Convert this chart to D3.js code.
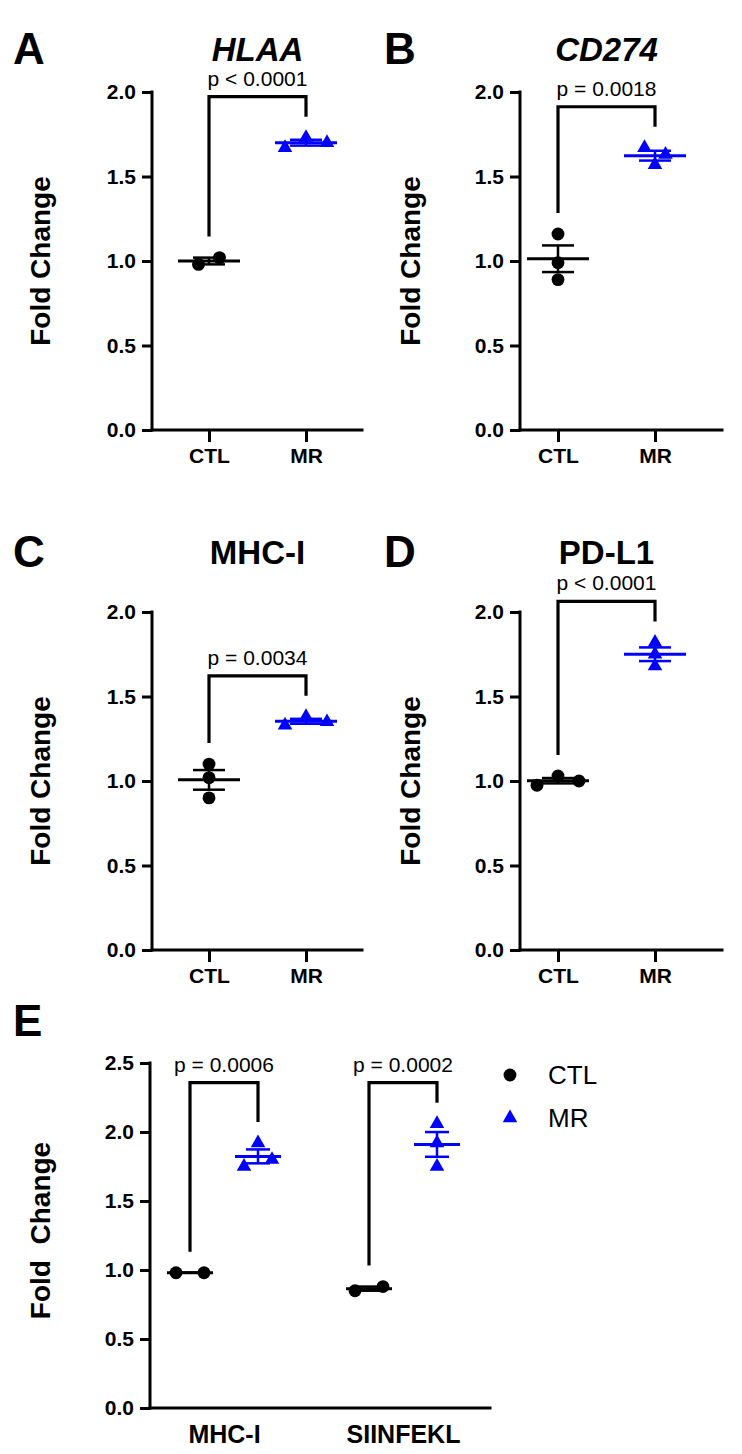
<!DOCTYPE html>
<html><head><meta charset="utf-8">
<script src="https://cdn.jsdelivr.net/npm/d3@7"></script>
<style>
body{margin:0;background:#fff}
svg{display:block}
text{font-family:"Liberation Sans",Arial,sans-serif;fill:#000}
</style>
</head><body>
<svg id="c" width="742" height="1454"></svg>
<script>
// ---------------- data ----------------
const groups = ["CTL", "MR"];
const hlaaCTL = [0.98, 1.02];
const hlaaMR = [1.67, 1.73, 1.70];
const cd274CTL = [1.16, 0.99, 0.89];
const cd274MR = [1.67, 1.57, 1.63];
const mhcCTL = [1.10, 1.02, 0.90];
const mhcMR = [1.33, 1.38, 1.35];
const pdl1CTL = [0.975, 1.03, 1.00];
const pdl1MR = [1.82, 1.75, 1.68];
const eGroups = ["MHC-I", "SIINFEKL"];
const eCTLmhc = [0.98, 0.98];
const eMRmhc = [1.75, 1.92, 1.80];
const eCTLsiin = [0.85, 0.88];
const eMRsiin = [2.06, 1.92, 1.75];
const pValsAD = ["p < 0.0001", "p = 0.0018", "p = 0.0034", "p < 0.0001"];
const pValsE = ["p = 0.0006", "p = 0.0002"];
const titlesAD = ["HLAA", "CD274", "MHC-I", "PD-L1"];
const lettersAll = ["A", "B", "C", "D", "E"];
const ticksAD = [0, 0.5, 1.0, 1.5, 2.0];
const ticksE = [0, 0.5, 1.0, 1.5, 2.0, 2.5];
const yLabel = "Fold Change";
const yLabelE = "Fold\u00a0\u00a0Change";

// ---------------- drawing ----------------
const svg = d3.select("#c");
const BLUE = "#0000ff", BLACK = "#000";
const circ = d3.symbol(d3.symbolCircle, 130)();
const tri = d3.symbol(d3.symbolTriangle, 92)();

function swarm(vals, y, sp, thr) {
  const pts = vals.map((v, i) => ({v, i, py: y(v)}));
  const sorted = pts.slice().sort((a, b) => a.py - b.py);
  const rows = []; let cur = [];
  sorted.forEach(p => {
    if (cur.length && p.py - cur[cur.length - 1].py > thr) { rows.push(cur); cur = []; }
    cur.push(p);
  });
  if (cur.length) rows.push(cur);
  rows.forEach(r => { r.sort((a, b) => a.i - b.i); r.forEach((p, j) => p.dx = (j - (r.length - 1) / 2) * sp); });
  return pts;
}

function styleAxis(g, fs) {
  g.selectAll(".domain").attr("stroke", BLACK).attr("stroke-width", 3).attr("stroke-linecap", "square");
  g.selectAll(".tick line").attr("stroke", BLACK).attr("stroke-width", 3);
  g.selectAll(".tick text").attr("font-size", fs).attr("font-weight", "bold")
    .attr("font-family", '"Liberation Sans", Arial, sans-serif').attr("fill", BLACK);
}

function drawGroup(vals, cx, y, color, shape, sp, meanHW, capHW) {
  const pts = swarm(vals, y, sp, 9);
  const g = svg.append("g");
  g.selectAll("path.pt").data(pts).join("path").attr("class", "pt")
    .attr("d", shape).attr("fill", color)
    .attr("transform", d => `translate(${cx + d.dx},${d.py})`);
  const m = d3.mean(vals);
  const sem = d3.deviation(vals) / Math.sqrt(vals.length);
  g.append("line").attr("x1", cx - meanHW).attr("x2", cx + meanHW).attr("y1", y(m)).attr("y2", y(m))
    .attr("stroke", color).attr("stroke-width", 3);
  g.append("line").attr("x1", cx).attr("x2", cx).attr("y1", y(m - sem)).attr("y2", y(m + sem))
    .attr("stroke", color).attr("stroke-width", 2.5);
  [m - sem, m + sem].forEach(v => g.append("line").attr("x1", cx - capHW).attr("x2", cx + capHW)
    .attr("y1", y(v)).attr("y2", y(v)).attr("stroke", color).attr("stroke-width", 2.5));
}

function bracket(x1, x2, yl, yr, top, label) {
  svg.append("path").attr("d", `M${x1},${yl}V${top}H${x2}V${yr}`)
    .attr("fill", "none").attr("stroke", BLACK).attr("stroke-width", 3.2);
  svg.append("text").attr("x", (x1 + x2) / 2).attr("y", top - 11).attr("text-anchor", "middle")
    .attr("font-size", 21).text(label);
}

// Panels A-D
const panelCfg = [
  {ax: 152, xend: 362, cx: 209, mx: 306, y0: 430, y2: 92, ctl: hlaaCTL, mr: hlaaMR, italic: true, lx: 13, labx: 40, ty: 61},
  {ax: 520, xend: 722, cx: 558, mx: 655, y0: 430, y2: 92, ctl: cd274CTL, mr: cd274MR, italic: true, lx: 384, labx: 410, ty: 61},
  {ax: 152, xend: 362, cx: 209, mx: 306, y0: 950, y2: 612, ctl: mhcCTL, mr: mhcMR, italic: false, lx: 13, labx: 40, ty: 564},
  {ax: 520, xend: 722, cx: 558, mx: 655, y0: 950, y2: 612, ctl: pdl1CTL, mr: pdl1MR, italic: false, lx: 384, labx: 410, ty: 564}
];

panelCfg.forEach((c, k) => {
  const y = d3.scaleLinear().domain([0, 2]).range([c.y0, c.y2]);
  const x = d3.scalePoint().domain(groups).range([c.cx, c.mx]);
  const ya = svg.append("g").attr("transform", `translate(${c.ax},0)`)
    .call(d3.axisLeft(y).tickValues(ticksAD).tickFormat(d3.format(".1f")).tickSize(10).tickSizeOuter(0).tickPadding(6));
  ya.select(".domain").attr("d", `M0,${c.y0}V${c.y2}`);
  styleAxis(ya, 21);
  const xa = svg.append("g").attr("transform", `translate(0,${c.y0})`)
    .call(d3.axisBottom(x).tickSize(12).tickSizeOuter(0).tickPadding(6));
  xa.select(".domain").attr("d", `M${c.ax},0H${c.xend}`);
  styleAxis(xa, 21);

  drawGroup(c.ctl, x("CTL"), y, BLACK, circ, 21, 31, 16);
  drawGroup(c.mr, x("MR"), y, BLUE, tri, 21, 31, 16);

  const gap = 21, arm = 20;
  const ytop = Math.min(y(d3.max(c.ctl)), y(d3.max(c.mr))) - gap - arm;
  bracket(x("CTL"), x("MR"), y(d3.max(c.ctl)) - gap, y(d3.max(c.mr)) - gap, ytop, pValsAD[k]);

  svg.append("text").attr("x", (c.cx + c.mx) / 2).attr("y", c.ty).attr("text-anchor", "middle")
    .attr("font-size", 33).attr("font-weight", "bold").attr("font-style", c.italic ? "italic" : "normal")
    .text(titlesAD[k]);
  svg.append("text").attr("x", c.lx).attr("y", c.ty + 3).attr("font-size", 44).attr("font-weight", "bold")
    .text(lettersAll[k]);
  svg.append("text").attr("transform", `translate(${c.labx},${y(1)}) rotate(-90)`).attr("text-anchor", "middle")
    .attr("dominant-baseline", "central").attr("font-size", 28).attr("font-weight", "bold").text(yLabel);
});

// Panel E
(function () {
  const ax = 150, xend = 490, y0 = 1408, y25 = 1063;
  const y = d3.scaleLinear().domain([0, 2.5]).range([y0, y25]);
  const x = d3.scalePoint().domain(eGroups).range([224, 403]);
  const off = 34;
  const ya = svg.append("g").attr("transform", `translate(${ax},0)`)
    .call(d3.axisLeft(y).tickValues(ticksE).tickFormat(d3.format(".1f")).tickSize(10).tickSizeOuter(0).tickPadding(6));
  ya.select(".domain").attr("d", `M0,${y0}V${y25}`);
  styleAxis(ya, 21);
  const xa = svg.append("g").attr("transform", `translate(0,${y0})`)
    .call(d3.axisBottom(x).tickSize(0).tickPadding(17));
  xa.select(".domain").attr("d", `M${ax},0H${xend}`);
  styleAxis(xa, 25);

  const sets = [[eCTLmhc, eMRmhc], [eCTLsiin, eMRsiin]];
  const allMax = d3.max(sets.flat(2));
  const gap = 21, arm = 20;
  const ytop = y(allMax) - gap - arm;
  sets.forEach((s, k) => {
    const c = x(eGroups[k]);
    drawGroup(s[0], c - off, y, BLACK, circ, 28, 23, 12);
    drawGroup(s[1], c + off, y, BLUE, tri, 28, 23, 12);
    bracket(c - off, c + off, y(d3.max(s[0])) - gap, y(d3.max(s[1])) - gap, ytop, pValsE[k]);
  });

  svg.append("text").attr("x", 13).attr("y", 1036).attr("font-size", 44).attr("font-weight", "bold").text(lettersAll[4]);
  svg.append("text").attr("transform", `translate(40,${(y0 + y25) / 2 - 5}) rotate(-90)`).attr("text-anchor", "middle")
    .attr("dominant-baseline", "central").attr("font-size", 28).attr("font-weight", "bold").text(yLabelE);

  // legend
  const leg = [{name: groups[0], shape: circ, color: BLACK}, {name: groups[1], shape: tri, color: BLUE}];
  leg.forEach((l, i) => {
    const ly = 1075 + i * 43;
    svg.append("path").attr("d", l.shape).attr("fill", l.color).attr("transform", `translate(510,${ly})`);
    svg.append("text").attr("x", 548).attr("y", ly).attr("dominant-baseline", "central")
      .attr("font-size", 26).text(l.name);
  });
})();
</script>
</body></html>
